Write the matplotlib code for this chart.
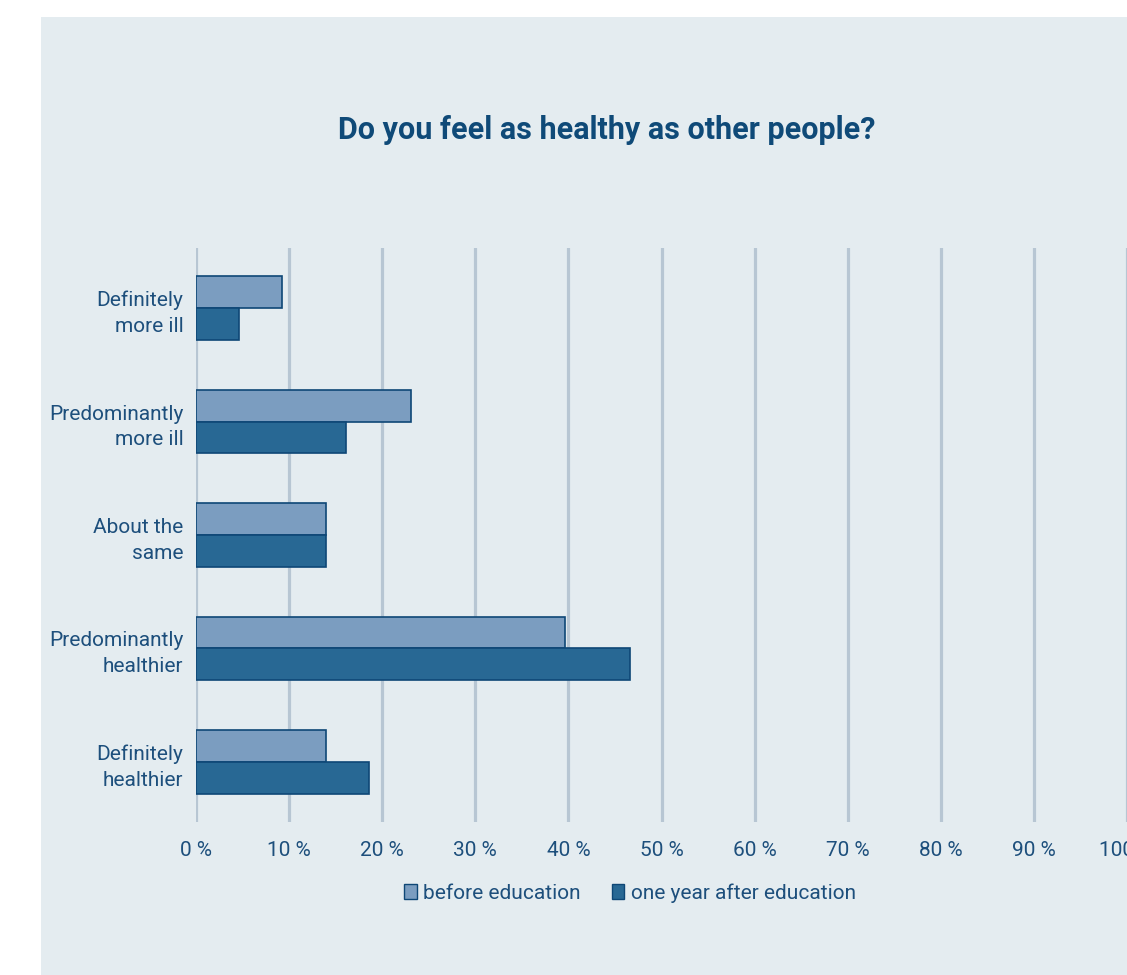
import numpy as np
import matplotlib.pyplot as plt
from matplotlib.patches import Patch, Rectangle

# survey answers, top to bottom
categories = ["Definitely\nmore ill", "Predominantly\nmore ill", "About the\nsame",
              "Predominantly\nhealthier", "Definitely\nhealthier"]
before_edu = [9.2, 23.1, 14.0, 39.6, 14.0]
after_edu = [4.6, 16.1, 14.0, 46.6, 18.6]
x_ticks = list(range(0, 101, 10))
tick_labels = [f"{t} %" for t in x_ticks]

TEXT = "#1d4f7c"
TITLE = "#0f4a78"
PANEL = "#e4ecf0"
GRID = "#b7c6d3"
C_BEFORE = "#7b9dc0"
C_AFTER = "#286894"
EDGE = "#0e4776"

plt.rcParams["font.family"] = ["Roboto", "DejaVu Sans"]

W, H = 1127, 975
fig = plt.figure(figsize=(W / 100, H / 100), dpi=100)
fig.patch.set_facecolor("white")
fig.patches.append(Rectangle((41 / W, 0), 1 - 41 / W, 1 - 17 / H,
                             transform=fig.transFigure, facecolor=PANEL,
                             edgecolor="none", zorder=-5))

ax = fig.add_axes([196 / W, 1 - 822 / H, 1 - 196 / W, (822 - 248) / H])
ax.set_facecolor("none")
ax.set_zorder(1)

y = np.arange(len(categories))
h = 0.28
ax.barh(y - h / 2, before_edu, height=h, color=C_BEFORE, edgecolor=EDGE,
        linewidth=1.2, zorder=3)
ax.barh(y + h / 2, after_edu, height=h, color=C_AFTER, edgecolor=EDGE,
        linewidth=1.2, zorder=3)

ax.set_xlim(0, 100)
ax.set_ylim(len(categories) - 0.47, -0.53)
ax.set_xticks(x_ticks)
ax.set_xticklabels(tick_labels)
ax.set_yticks(y)
ax.set_yticklabels(categories, ha="right", linespacing=1.45)
ax.tick_params(axis="both", length=0, labelsize=15, colors=TEXT)
ax.tick_params(axis="x", pad=14)
ax.tick_params(axis="y", pad=9)
ax.set_axisbelow(True)
ax.xaxis.grid(True, color=GRID, linewidth=2.3, zorder=0)
for s in ax.spines.values():
    s.set_visible(False)

fig.text(607 / W, 1 - 130 / H, "Do you feel as healthy as other people?",
         ha="center", va="center", fontsize=22, fontweight="bold", color=TITLE)

handles = [Patch(facecolor=C_BEFORE, edgecolor=EDGE, label="before education"),
           Patch(facecolor=C_AFTER, edgecolor=EDGE, label="one year after education")]
leg = fig.legend(handles=handles, loc="center", bbox_to_anchor=(630 / W, 1 - 893 / H),
                 ncol=2, frameon=False, fontsize=15, handlelength=0.6,
                 handleheight=0.8, handletextpad=0.3, columnspacing=1.5)
for t in leg.get_texts():
    t.set_color(TEXT)

fig.savefig("out.png", dpi=100)
